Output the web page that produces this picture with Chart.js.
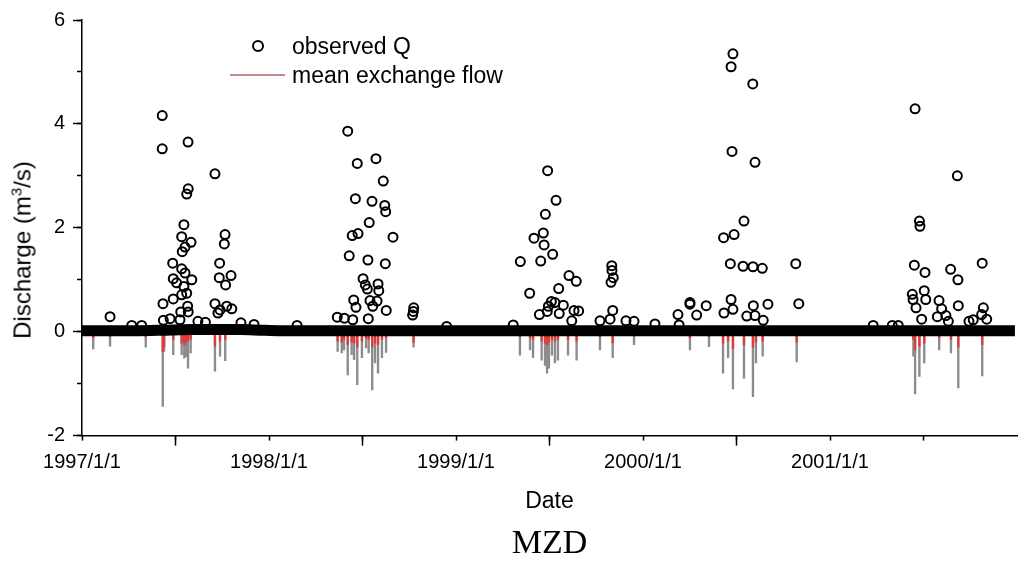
<!DOCTYPE html>
<html>
<head>
<meta charset="utf-8">
<script src="https://cdn.jsdelivr.net/npm/chart.js@4.4.1/dist/chart.umd.min.js"></script>
<style>
  html, body { margin: 0; padding: 0; background: #fff; }
  #wrap { position: relative; width: 1033px; height: 563px; font-family: "Liberation Sans", Arial, sans-serif; color: #000; }
  #wrap canvas { position: absolute; left: 0; top: 0; }
  .ytitle { position: absolute; left: 22px; top: 250px; transform: translate(-50%, -50%) rotate(-90deg); font-size: 24px; white-space: nowrap; }
  .ytitle sup { font-size: 15px; }
  .lg-text { position: absolute; left: 292px; font-size: 23px; line-height: 28px; white-space: nowrap; }
  .lg-circle { position: absolute; left: 252px; top: 40px; width: 8px; height: 8px; border: 2px solid #000; border-radius: 50%; }
  .lg-line { position: absolute; left: 230px; top: 74px; width: 55px; height: 1.5px; background: #c48a8a; }
</style>
</head>
<body>
<div id="wrap">
  <canvas id="chart" width="1033" height="563"></canvas>
  <div class="ytitle">Discharge (m<sup>3</sup>/s)</div>
  <div class="lg-circle"></div>
  <div class="lg-text" style="top:32px">observed Q</div>
  <div class="lg-line"></div>
  <div class="lg-text" style="top:61px">mean exchange flow</div>
</div>
<script>
// x values are decimal years (1997.5 = mid 1997)
const yearTicks = [1997, 1998, 1999, 2000, 2001];

// observed Q, peaks
const qYears = [
  1997.150, 1997.266, 1997.319, 1997.429, 1997.429, 1997.567, 1997.711, 1997.568, 1997.560, 1997.545,
  1997.533, 1997.583, 1997.551, 1997.536, 1997.765, 1997.761, 1997.485, 1997.533, 1997.551, 1997.488,
  1997.506, 1997.587, 1997.545, 1997.560, 1997.533, 1997.488, 1997.433, 1997.736, 1997.734, 1997.797,
  1997.768, 1997.711, 1997.565, 1997.528, 1997.568, 1997.738, 1997.774, 1997.801, 1997.727, 1997.471,
  1997.435, 1997.524, 1997.620, 1997.660, 1997.850, 1997.920,
  1998.150, 1998.421, 1998.472, 1998.572, 1998.611, 1998.462, 1998.551, 1998.619, 1998.624, 1998.536,
  1998.445, 1998.476, 1998.663, 1998.429, 1998.529, 1998.622, 1998.503, 1998.515, 1998.583, 1998.526,
  1998.587, 1998.453, 1998.465, 1998.540, 1998.578, 1998.555, 1998.627, 1998.774, 1998.772, 1998.768,
  1998.365, 1998.403, 1998.531, 1998.448, 1998.950,
  1999.490, 1999.535, 1999.478, 1999.467, 1999.417, 1999.471, 1999.517, 1999.344, 1999.453, 1999.833,
  1999.834, 1999.841, 1999.829, 1999.604, 1999.643, 1999.394, 1999.549, 1999.510, 1999.529, 1999.494,
  1999.574, 1999.488, 1999.446, 1999.552, 1999.631, 1999.656, 1999.838, 1999.619, 1999.770, 1999.824,
  1999.909, 1999.306, 1999.952,
  2000.064, 2000.481, 2000.471, 2000.587, 2000.476, 2000.599, 2000.540, 2000.431, 2000.487, 2000.467,
  2000.535, 2000.588, 2000.638, 2000.817, 2000.251, 2000.251, 2000.338, 2000.471, 2000.481, 2000.590,
  2000.668, 2000.833, 2000.187, 2000.287, 2000.433, 2000.555, 2000.599, 2000.643, 2000.193,
  2001.455, 2001.681, 2001.478, 2001.481, 2001.451, 2001.814, 2001.508, 2001.645, 2001.684, 2001.504,
  2001.440, 2001.444, 2001.512, 2001.583, 2001.460, 2001.597, 2001.686, 2001.820, 2001.811, 2001.838,
  2001.574, 2001.620, 2001.633, 2001.490, 2001.743, 2001.766, 2001.231, 2001.333, 2001.365
];
const qValues = [
  0.29, 0.12, 0.12, 4.16, 3.52, 3.65, 3.04, 2.75, 2.65, 2.06,
  1.83, 1.72, 1.63, 1.54, 1.87, 1.69, 1.32, 1.21, 1.13, 1.02,
  0.94, 1.00, 0.87, 0.74, 0.71, 0.63, 0.54, 1.32, 1.04, 1.08,
  0.90, 0.54, 0.49, 0.38, 0.38, 0.42, 0.49, 0.44, 0.36, 0.25,
  0.22, 0.23, 0.20, 0.18, 0.17, 0.14,
  0.12, 3.86, 3.24, 3.33, 2.90, 2.56, 2.51, 2.43, 2.31, 2.10,
  1.85, 1.89, 1.82, 1.46, 1.38, 1.31, 1.02, 0.90, 0.92, 0.82,
  0.79, 0.61, 0.47, 0.60, 0.59, 0.49, 0.41, 0.46, 0.39, 0.32,
  0.28, 0.26, 0.25, 0.23, 0.10,
  3.10, 2.53, 2.26, 1.90, 1.80, 1.67, 1.49, 1.35, 1.36, 1.27,
  1.18, 1.04, 0.95, 1.08, 0.97, 0.74, 0.83, 0.58, 0.56, 0.49,
  0.51, 0.39, 0.33, 0.35, 0.41, 0.40, 0.41, 0.21, 0.21, 0.24,
  0.21, 0.13, 0.20,
  0.15, 5.35, 5.10, 4.77, 3.47, 3.26, 2.13, 1.81, 1.87, 1.31,
  1.26, 1.25, 1.22, 1.31, 0.56, 0.53, 0.50, 0.62, 0.43, 0.50,
  0.53, 0.54, 0.33, 0.32, 0.36, 0.30, 0.31, 0.22, 0.13,
  4.29, 3.00, 2.13, 2.03, 1.28, 1.32, 1.14, 1.20, 1.00, 0.79,
  0.72, 0.62, 0.62, 0.60, 0.46, 0.44, 0.50, 0.46, 0.33, 0.24,
  0.29, 0.31, 0.20, 0.24, 0.20, 0.23, 0.12, 0.12, 0.12
];

// dense daily base flow, drawn as the black band along zero
const baseYears = [1997.0, 1997.30, 1997.45, 1997.60, 1997.75, 1997.85, 1997.95, 1998.05, 1998.50, 1999.0, 1999.5, 2000.0, 2000.5, 2001.0, 2001.5, 2001.989];
const baseValues = [0.02, 0.02, 0.03, 0.04, 0.04, 0.04, 0.03, 0.02, 0.02, 0.02, 0.02, 0.02, 0.02, 0.02, 0.02, 0.02];

// exchange flow events: lowest value (grey) and mean (red)
const flowYears = [
  1997.060, 1997.150, 1997.341, 1997.432, 1997.439, 1997.488, 1997.533, 1997.547, 1997.556, 1997.567, 1997.581, 1997.711, 1997.738, 1997.766,
  1998.367, 1998.389, 1998.401, 1998.421, 1998.442, 1998.455, 1998.472, 1998.497, 1998.519, 1998.533, 1998.552, 1998.567, 1998.583, 1998.604, 1998.626, 1998.773,
  1999.342, 1999.396, 1999.412, 1999.458, 1999.476, 1999.487, 1999.497, 1999.513, 1999.529, 1999.545, 1999.599, 1999.645, 1999.770, 1999.838, 1999.952,
  2000.251, 2000.353, 2000.428, 2000.455, 2000.481, 2000.540, 2000.588, 2000.604, 2000.640, 2000.822,
  2001.446, 2001.455, 2001.478, 2001.504, 2001.584, 2001.647, 2001.686, 2001.814
];
const flowLow = [
  -0.33, -0.28, -0.30, -1.44, -0.38, -0.44, -0.44, -0.51, -0.48, -0.70, -0.41, -0.76, -0.47, -0.56,
  -0.38, -0.41, -0.35, -0.83, -0.44, -0.54, -1.02, -0.50, -0.31, -0.41, -1.12, -0.60, -0.80, -0.50, -0.40, -0.30,
  -0.45, -0.35, -0.50, -0.55, -0.65, -0.80, -0.70, -0.45, -0.60, -0.55, -0.45, -0.55, -0.35, -0.50, -0.25,
  -0.35, -0.29, -0.80, -0.50, -1.10, -0.90, -1.25, -0.60, -0.47, -0.58,
  -0.47, -1.20, -0.86, -0.60, -0.35, -0.41, -1.08, -0.85
];
const flowMean = [
  -0.12, -0.10, -0.10, -0.38, -0.30, -0.15, -0.22, -0.25, -0.20, -0.18, -0.15, -0.28, -0.18, -0.15,
  -0.18, -0.20, -0.15, -0.25, -0.20, -0.22, -0.30, -0.18, -0.12, -0.15, -0.30, -0.22, -0.25, -0.15, -0.12, -0.20,
  -0.10, -0.12, -0.15, -0.18, -0.22, -0.25, -0.20, -0.15, -0.18, -0.15, -0.15, -0.18, -0.10, -0.22, -0.08,
  -0.12, -0.10, -0.22, -0.18, -0.32, -0.25, -0.30, -0.20, -0.18, -0.20,
  -0.15, -0.35, -0.28, -0.22, -0.12, -0.15, -0.30, -0.25
];

const sans = '"Liberation Sans", Arial, sans-serif';
const pairs = (xs, ys) => xs.map((x, i) => ({ x: x, y: ys[i] }));
const hideEnd = c => (c.tick && c.tick.value === 2002 ? "rgba(0,0,0,0)" : "#000");

const ctx = document.getElementById("chart").getContext("2d");
new Chart(ctx, {
  type: "scatter",
  data: {
    datasets: [
      {
        type: "bar",
        label: "exchange flow",
        data: pairs(flowYears, flowLow),
        backgroundColor: "#8c8c8c",
        barThickness: 1.7,
        grouped: false,
        order: 4,
      },
      {
        type: "bar",
        label: "mean exchange flow",
        data: pairs(flowYears, flowMean),
        backgroundColor: "#e23a3a",
        barThickness: 1.7,
        grouped: false,
        order: 3,
      },
      {
        type: "line",
        label: "base flow",
        data: pairs(baseYears, baseValues),
        borderColor: "#000",
        borderWidth: 11,
        pointRadius: 0,
        tension: 0.3,
        order: 2,
      },
      {
        type: "scatter",
        label: "observed Q",
        data: pairs(qYears, qValues),
        pointStyle: "circle",
        pointRadius: 4.5,
        borderWidth: 2,
        borderColor: "#000",
        backgroundColor: "rgba(0,0,0,0)",
        order: 1,
      },
    ],
  },
  options: {
    responsive: false,
    animation: false,
    layout: { padding: { left: 0, top: 20, right: 16, bottom: 0 } },
    plugins: {
      legend: { display: false },
      tooltip: { enabled: false },
      title: {
        display: true,
        position: "bottom",
        fullSize: false,
        text: "MZD",
        color: "#000",
        font: { family: '"Liberation Serif", "Times New Roman", serif', size: 34, weight: "normal", lineHeight: 1.1 },
        padding: { top: 10, bottom: 0 },
      },
    },
    scales: {
      x: {
        type: "linear",
        min: 1997,
        max: 2002,
        weight: 1,
        offset: false,
        border: { display: true, color: "#000", width: 1.5 },
        grid: { drawOnChartArea: false, tickLength: 10, tickWidth: 1.5, tickColor: hideEnd },
        ticks: {
          stepSize: 1,
          autoSkip: false,
          maxRotation: 0,
          color: "#000",
          padding: 5,
          font: { family: sans, size: 20 },
          callback: v => (yearTicks.includes(v) ? v + "/1/1" : ""),
        },
        title: { display: true, text: "Date", color: "#000", font: { family: sans, size: 23 }, padding: 0 },
        afterFit: s => { s.height = 80; },
      },
      x2: {
        type: "linear",
        position: "bottom",
        min: 1997,
        max: 2002,
        weight: 0,
        border: { display: false },
        grid: { drawOnChartArea: false, tickLength: 5, tickWidth: 1.5, tickColor: hideEnd },
        ticks: { stepSize: 0.5, display: false },
        afterFit: s => { s.height = 0; },
      },
      y: {
        min: -2,
        max: 6,
        weight: 1,
        border: { display: true, color: "#000", width: 1.5 },
        grid: { drawOnChartArea: false, tickLength: 9, tickWidth: 1.5, tickColor: "#000" },
        ticks: { stepSize: 2, color: "#000", padding: 8, font: { family: sans, size: 20 } },
        afterFit: s => { s.width = 82; },
      },
      y2: {
        position: "left",
        min: -2,
        max: 6,
        weight: 0,
        border: { display: false },
        grid: { drawOnChartArea: false, tickLength: 5, tickWidth: 1.5, tickColor: "#000" },
        ticks: { stepSize: 1, display: false },
        afterFit: s => { s.width = 0; },
      },
    },
  },
});
</script>
</body>
</html>
